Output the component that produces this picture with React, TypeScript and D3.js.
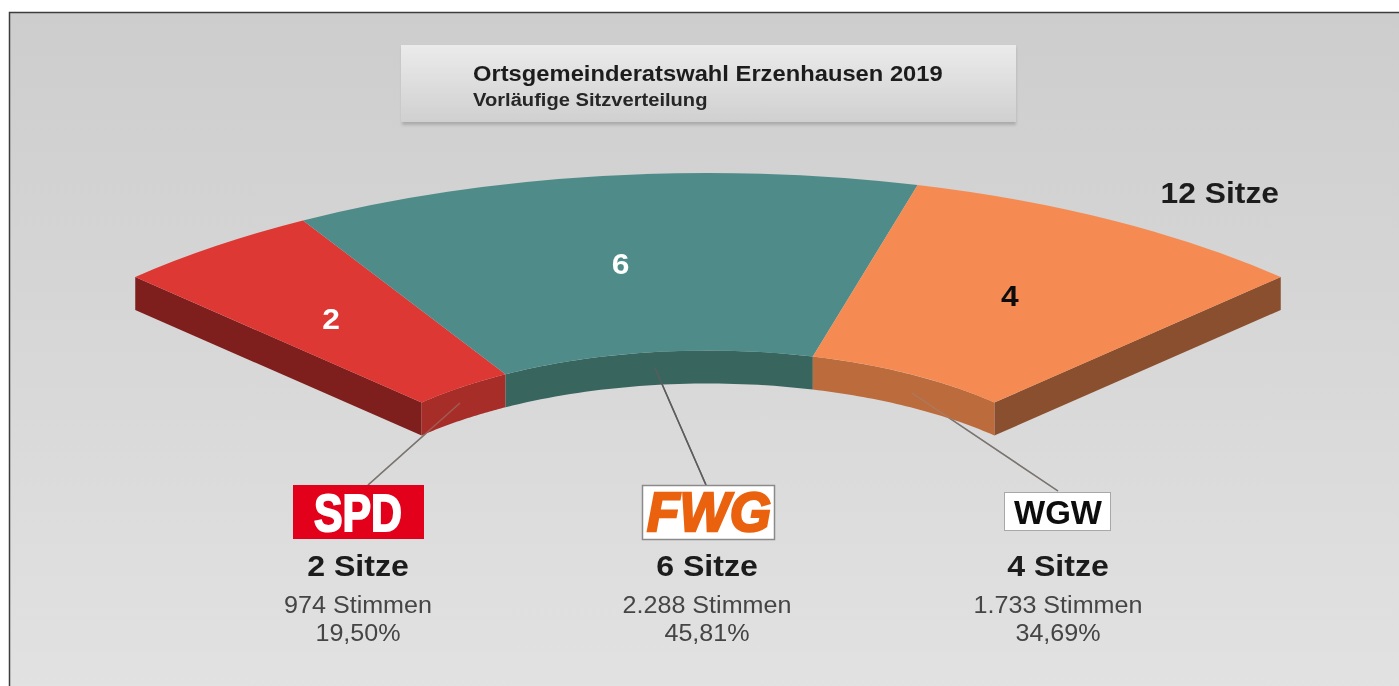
import React from 'react';
import * as d3 from 'd3';

const parties = ['SPD', 'FWG', 'WGW'];
const seats = [2, 6, 4];
const votes = ['974 Stimmen', '2.288 Stimmen', '1.733 Stimmen'];
const shares = ['19,50%', '45,81%', '34,69%'];
const topColors = ['#dd3834', '#4f8c89', '#f58b52'];
const frontColors = ['#a72d28', '#39655f', '#bc6b3c'];
const sideColors = ['#7e1f1d', '', '#8a4f2e'];
const seatLabelColors = ['#ffffff', '#ffffff', '#111111'];

const W = 1399;
const H = 686;
const cx = 708;
const cy = 528;
const outerR = 810;
const innerR = 405;
const squash = 355 / 810;
const depth = 33;
const font = '"Liberation Sans", Arial, sans-serif';
const stretch = 1.06; // the reference is a little wider than the font

const total = d3.sum(seats);
const angle = d3.scaleLinear().domain([0, total]).range([-Math.PI / 4, Math.PI / 4]);
const cumulative = d3.cumsum(seats);
const slices = seats.map((s, i) => ({ start: angle(cumulative[i] - s), end: angle(cumulative[i]) }));

const arc = d3.arc<{ start: number; end: number }>()
  .innerRadius(innerR)
  .outerRadius(outerR)
  .startAngle(d => d.start)
  .endAngle(d => d.end);

// same angle convention as d3.arc, 0 = up
const project = (r: number, a: number, dy = 0): [number, number] => [
  cx + r * Math.sin(a),
  cy - r * squash * Math.cos(a) + dy,
];

const line = d3.line();

function frontWall(start: number, end: number) {
  const steps = d3.range(0, 41).map(i => start + ((end - start) * i) / 40);
  const top = steps.map(a => project(innerR, a));
  const bottom = steps.slice().reverse().map(a => project(innerR, a, depth));
  return line([...top, ...bottom]) + 'Z';
}

function sideWall(a: number) {
  return line([project(outerR, a), project(innerR, a), project(innerR, a, depth), project(outerR, a, depth)]) + 'Z';
}

// label columns and leader lines, in page pixels
const columnX = [358, 707, 1058];
const labelOffsetX = [-7, -8, -2];
const labelOffsetY = [12, 10, 9];
const leaders: [number, number, number, number][] = [
  [460, 403, 368, 485],
  [655, 368, 706, 485],
  [912, 393, 1058, 491],
];

function Wide({ x, y, children, anchor = 'middle', ...rest }: any) {
  return (
    <text transform={`translate(${x},${y}) scale(${stretch},1)`} textAnchor={anchor} {...rest}>
      {children}
    </text>
  );
}

export default function App() {
  return (
    <svg width={W} height={H} style={{ position: 'fixed', left: 0, top: 0, display: 'block' }}>
      <defs>
        <linearGradient id="bg" x1="0" y1="0" x2="0" y2="1">
          <stop offset="0" stopColor="#cdcdcd" />
          <stop offset="1" stopColor="#e2e2e2" />
        </linearGradient>
        <linearGradient id="titleBox" x1="0" y1="0" x2="0" y2="1">
          <stop offset="0" stopColor="#ebebeb" />
          <stop offset="1" stopColor="#d0d0d0" />
        </linearGradient>
        <filter id="soft" x="-5%" y="-30%" width="110%" height="160%">
          <feGaussianBlur stdDeviation="1.5" />
        </filter>
        <filter id="blurText" x="-5%" y="-10%" width="110%" height="120%">
          <feGaussianBlur stdDeviation="0.45" />
        </filter>
      </defs>

      <rect width={W} height={H} fill="#ffffff" />
      <rect x={9.5} y={12.5} width={W} height={H} fill="url(#bg)" stroke="#3d3d3d" strokeWidth={1.5} />

      <rect x={402} y={47} width={614} height={78} fill="#ababab" filter="url(#soft)" />
      <rect x={401} y={45} width={615} height={77} fill="url(#titleBox)" />

      <g filter="url(#blurText)" fontFamily={font} fontWeight="bold" fill="#1c1c1c">
        <Wide x={473} y={81} anchor="start" fontSize={22.4}>Ortsgemeinderatswahl Erzenhausen 2019</Wide>
        <Wide x={473} y={106} anchor="start" fontSize={19} fill="#262626">Vorläufige Sitzverteilung</Wide>
        <Wide x={1279} y={203} anchor="end" fontSize={30}>12 Sitze</Wide>
      </g>

      {/* leaders sit behind the solid, a faint copy shows through the walls */}
      {leaders.map((d, i) => (
        <line key={parties[i]} x1={d[0]} y1={d[1]} x2={d[2]} y2={d[3]} stroke="#5c5c5c" strokeWidth={1.5} />
      ))}

      {/* chart walls first, then the top faces */}
      <path d={sideWall(slices[0].start)} fill={sideColors[0]} />
      <path d={sideWall(slices[2].end)} fill={sideColors[2]} />
      {slices.map((s, i) => (
        <path key={parties[i]} d={frontWall(s.start, s.end)} fill={frontColors[i]} />
      ))}
      {leaders.map((d, i) => (
        <line key={parties[i]} x1={d[0]} y1={d[1]} x2={d[2]} y2={d[3]} stroke={i === 1 ? '#5c5c5c' : '#9a8a80'} strokeOpacity={i === 1 ? 0.9 : 0.5} strokeWidth={1.5} />
      ))}
      <g transform={`translate(${cx},${cy}) scale(1,${squash})`}>
        {slices.map((s, i) => (
          <path key={parties[i]} d={arc(s) as string} fill={topColors[i]} />
        ))}
      </g>

      {slices.map((s, i) => {
        const [x, y] = arc.centroid(s);
        return (
          <Wide
            key={parties[i]}
            x={cx + x + labelOffsetX[i]}
            y={cy + y * squash + labelOffsetY[i]}
            fontFamily={font}
            fontWeight="bold"
            fontSize={30}
            fill={seatLabelColors[i]}
            filter="url(#blurText)"
          >
            {seats[i]}
          </Wide>
        );
      })}

      {/* party logos */}
      <rect x={293} y={485} width={131} height={54} fill="#e2001a" />
      <text x={358} y={531} textAnchor="middle" fontFamily={font} fontWeight="bold" fontSize={52} textLength={88} lengthAdjust="spacingAndGlyphs" fill="#ffffff" stroke="#ffffff" strokeWidth={2} filter="url(#blurText)">SPD</text>
      <rect x={642.5} y={485.5} width={132} height={54} fill="#ffffff" stroke="#8a8a8a" strokeWidth={1.5} />
      <text x={709} y={531} textAnchor="middle" fontFamily={font} fontWeight="bold" fontStyle="italic" fontSize={56} textLength={124} lengthAdjust="spacingAndGlyphs" fill="#ea6210" stroke="#ea6210" strokeWidth={2.5} filter="url(#blurText)">FWG</text>
      <rect x={1004.5} y={492.5} width={106} height={38} fill="#ffffff" stroke="#a8a8a8" />
      <text x={1058} y={524} textAnchor="middle" fontFamily={font} fontWeight="bold" fontSize={33} textLength={88} lengthAdjust="spacingAndGlyphs" fill="#111111" filter="url(#blurText)">WGW</text>

      <g fontFamily={font} filter="url(#blurText)">
        {parties.map((p, i) => (
          <g key={p}>
            <Wide x={columnX[i]} y={576} fontWeight="bold" fontSize={30.3} fill="#1a1a1a">{seats[i]} Sitze</Wide>
            <Wide x={columnX[i]} y={613} fontSize={23.7} fill="#444444">{votes[i]}</Wide>
            <Wide x={columnX[i]} y={641} fontSize={23.7} fill="#444444">{shares[i]}</Wide>
          </g>
        ))}
      </g>
    </svg>
  );
}
